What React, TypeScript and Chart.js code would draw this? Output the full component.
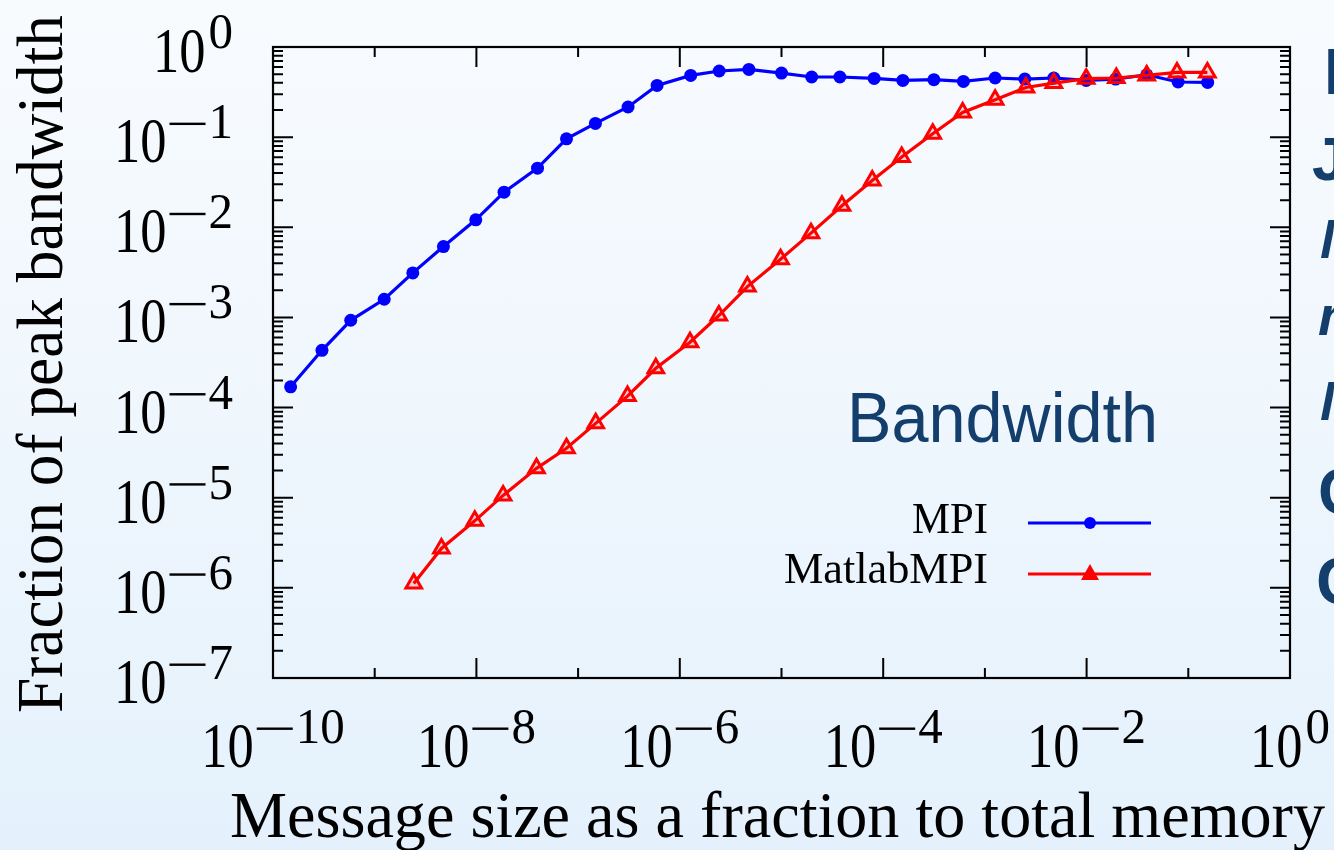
import React, { useEffect, useRef } from "react";
import { Chart, registerables } from "chart.js";

Chart.register(...registerables);

// ---- data ----
const mpiX = [1.49e-10, 3.03e-10, 5.81e-10, 1.24e-9, 2.37e-9, 4.74e-9, 9.86e-9, 1.87e-8, 3.99e-8, 7.69e-8, 1.48e-7, 3.1e-7, 5.98e-7, 1.28e-6, 2.44e-6, 4.78e-6, 1.0e-5, 1.98e-5, 3.75e-5, 8.15e-5, 1.56e-4, 3.15e-4, 6.15e-4, 1.26e-3, 2.47e-3, 4.76e-3, 9.91e-3, 1.93e-2, 3.9e-2, 7.94e-2, 0.155];
const mpiY = [1.7e-4, 4.32e-4, 9.3e-4, 1.59e-3, 3.12e-3, 6.11e-3, 1.21e-2, 2.45e-2, 4.53e-2, 9.59e-2, 0.142, 0.216, 0.375, 0.484, 0.542, 0.564, 0.514, 0.465, 0.465, 0.448, 0.426, 0.434, 0.415, 0.453, 0.441, 0.453, 0.426, 0.441, 0.492, 0.409, 0.405];
const matlabX = [2.42e-9, 4.53e-9, 9.64e-9, 1.83e-8, 3.9e-8, 7.69e-8, 1.49e-7, 3.06e-7, 5.81e-7, 1.26e-6, 2.42e-6, 4.62e-6, 9.79e-6, 1.95e-5, 3.93e-5, 7.8e-5, 1.52e-4, 3.07e-4, 6.04e-4, 1.26e-3, 2.53e-3, 4.76e-3, 9.91e-3, 1.96e-2, 3.9e-2, 7.74e-2, 0.154];
const matlabY = [1.12e-6, 2.74e-6, 5.54e-6, 1.06e-5, 2.12e-5, 3.53e-5, 6.68e-5, 1.34e-4, 2.73e-4, 5.3e-4, 1.05e-3, 2.2e-3, 4.43e-3, 8.61e-3, 1.73e-2, 3.3e-2, 6.01e-2, 0.109, 0.188, 0.26, 0.356, 0.398, 0.445, 0.453, 0.484, 0.522, 0.522];

const xExponents = [-10, -8, -6, -4, -2, 0];
const xTickExponents = [-10, -9, -8, -7, -6, -5, -4, -3, -2, -1, 0];
const yExponents = [0, -1, -2, -3, -4, -5, -6, -7];
const seriesNames = ["MPI", "MatlabMPI"];
const xTitle = "Message size as a fraction to total memory";
const yTitle = "Fraction of peak bandwidth";
const boxTitle = "Bandwidth";
const sideGlyphs = ["B", "J", "M", "m", "M", "C", "C"];

const SERIF = '"Liberation Serif", "Times New Roman", serif';
const SANS = '"Liberation Sans", Arial, sans-serif';

function fitText(ctx: CanvasRenderingContext2D, text: string, x: number, y: number, font: string, targetW: number, align: "left" | "right" | "center") {
  ctx.save();
  ctx.font = font;
  ctx.textAlign = "left";
  ctx.textBaseline = "alphabetic";
  const w = ctx.measureText(text).width;
  const sx = targetW / w;
  let L = x;
  if (align === "right") L = x - targetW;
  if (align === "center") L = x - targetW / 2;
  ctx.translate(L, y);
  ctx.scale(sx, 1);
  ctx.fillText(text, 0, 0);
  ctx.restore();
}

function powWidth(ctx: CanvasRenderingContext2D, exp: number) {
  ctx.font = `64px ${SERIF}`;
  const wb = ctx.measureText("10").width * 0.82;
  ctx.font = `50px ${SERIF}`;
  const we = ctx.measureText(String(Math.abs(exp))).width * 0.98;
  return { wb, we, total: wb + 3 + (exp < 0 ? 36 + 3 : 0) + we };
}

function drawPow(ctx: CanvasRenderingContext2D, exp: number, L: number, baseY: number) {
  const { wb } = powWidth(ctx, exp);
  ctx.save();
  ctx.fillStyle = "#000";
  ctx.textAlign = "left";
  ctx.textBaseline = "alphabetic";
  ctx.font = `64px ${SERIF}`;
  ctx.save();
  ctx.translate(L, baseY);
  ctx.scale(0.82, 1);
  ctx.fillText("10", 0, 0);
  ctx.restore();
  let cx = L + wb + 3;
  const eBase = baseY - 24;
  if (exp < 0) {
    ctx.fillRect(cx, eBase - 15.5, 36, 2.4);
    cx += 36 + 3;
  }
  ctx.font = `50px ${SERIF}`;
  ctx.save();
  ctx.translate(cx, eBase);
  ctx.scale(0.98, 1);
  ctx.fillText(String(Math.abs(exp)), 0, 0);
  ctx.restore();
  ctx.restore();
}

const decorPlugin = {
  id: "decor",
  beforeDatasetsDraw(chart: any) {
    const ctx: CanvasRenderingContext2D = chart.ctx;
    const { left, right, top, bottom } = chart.chartArea;
    const xs = chart.scales.x;
    const ys = chart.scales.y;
    ctx.save();
    ctx.strokeStyle = "#000";
    ctx.lineWidth = 2;
    ctx.beginPath();
    for (let d = -7; d <= 0; d++) {
      const py = ys.getPixelForValue(Math.pow(10, d));
      ctx.moveTo(left, py); ctx.lineTo(left + 20, py);
      ctx.moveTo(right, py); ctx.lineTo(right - 20, py);
      if (d < 0) {
        for (let m = 2; m <= 9; m++) {
          const pm = ys.getPixelForValue(m * Math.pow(10, d));
          ctx.moveTo(left, pm); ctx.lineTo(left + 10, pm);
          ctx.moveTo(right, pm); ctx.lineTo(right - 10, pm);
        }
      }
    }
    xTickExponents.forEach((e) => {
      const px = xs.getPixelForValue(Math.pow(10, e));
      const len = e % 2 === 0 ? 20 : 10;
      ctx.moveTo(px, bottom); ctx.lineTo(px, bottom - len);
      ctx.moveTo(px, top); ctx.lineTo(px, top + len);
    });
    ctx.stroke();
    ctx.lineWidth = 2.2;
    ctx.strokeRect(left, top, right - left, bottom - top);
    ctx.restore();
  },
  afterDraw(chart: any) {
    const ctx: CanvasRenderingContext2D = chart.ctx;
    const { bottom } = chart.chartArea;
    const xs = chart.scales.x;
    const ys = chart.scales.y;
    ctx.save();
    ctx.fillStyle = "#000";
    yExponents.forEach((e) => {
      const py = ys.getPixelForValue(Math.pow(10, e));
      const { total } = powWidth(ctx, e);
      drawPow(ctx, e, 233 - total, py + 25);
    });
    xExponents.forEach((e) => {
      const px = xs.getPixelForValue(Math.pow(10, e));
      const { total } = powWidth(ctx, e);
      drawPow(ctx, e, px - total / 2, bottom + 89);
    });
    fitText(ctx, xTitle, 230, 837, `66px ${SERIF}`, 1095, "left");
    ctx.save();
    ctx.translate(62, 713);
    ctx.rotate(-Math.PI / 2);
    fitText(ctx, yTitle, 0, 0, `66px ${SERIF}`, 698, "left");
    ctx.restore();

    ctx.fillStyle = "#143f6c";
    fitText(ctx, boxTitle, 847, 442, `70px ${SANS}`, 311, "left");
    ctx.fillStyle = "#000";
    fitText(ctx, seriesNames[0], 988, 533, `44px ${SERIF}`, 76, "right");
    fitText(ctx, seriesNames[1], 988, 583, `44px ${SERIF}`, 204, "right");
    ctx.lineWidth = 3.2;
    ctx.strokeStyle = "#0000ff";
    ctx.beginPath(); ctx.moveTo(1028, 523); ctx.lineTo(1151, 523); ctx.stroke();
    ctx.fillStyle = "#0000ff";
    ctx.beginPath(); ctx.arc(1090, 523, 6, 0, Math.PI * 2); ctx.fill();
    ctx.strokeStyle = "#ff0000";
    ctx.beginPath(); ctx.moveTo(1028, 574); ctx.lineTo(1151, 574); ctx.stroke();
    ctx.fillStyle = "#ff0000";
    ctx.beginPath();
    ctx.moveTo(1090, 564); ctx.lineTo(1099, 580); ctx.lineTo(1081, 580); ctx.closePath();
    ctx.fill();

    ctx.fillStyle = "#143f6c";
    const rows = [
      { t: sideGlyphs[0], x: 1324, y: 94, f: `bold 64px ${SANS}` },
      { t: sideGlyphs[1], x: 1312, y: 180, f: `bold 62px ${SANS}` },
      { t: sideGlyphs[2], x: 1320, y: 258, f: `italic bold 56px ${SANS}` },
      { t: sideGlyphs[3], x: 1318, y: 335, f: `italic bold 56px ${SANS}` },
      { t: sideGlyphs[4], x: 1320, y: 420, f: `italic bold 56px ${SANS}` },
      { t: sideGlyphs[5], x: 1318, y: 514, f: `bold 64px ${SANS}` },
      { t: sideGlyphs[6], x: 1316, y: 604, f: `bold 66px ${SANS}` },
    ];
    rows.forEach((r) => {
      ctx.font = r.f;
      ctx.textAlign = "left";
      ctx.fillText(r.t, r.x, r.y);
    });
    ctx.restore();
  },
};

export default function App() {
  const ref = useRef<HTMLCanvasElement | null>(null);
  useEffect(() => {
    if (!ref.current) return;
    const chart = new Chart(ref.current, {
      type: "line",
      data: {
        datasets: [
          {
            label: seriesNames[0],
            data: mpiX.map((x, i) => ({ x, y: mpiY[i] })),
            borderColor: "#0000ff",
            backgroundColor: "#0000ff",
            borderWidth: 3.2,
            pointStyle: "circle",
            pointRadius: 6.5,
            pointBorderWidth: 0,
            pointBackgroundColor: "#0000ff",
            fill: false,
            order: 2,
          },
          {
            label: seriesNames[1],
            data: matlabX.map((x, i) => ({ x, y: matlabY[i] })),
            borderColor: "#ff0000",
            backgroundColor: "rgba(255,0,0,0.15)",
            borderWidth: 3.2,
            pointStyle: "triangle",
            pointRadius: 9,
            pointBorderWidth: 3,
            pointBorderColor: "#ff0000",
            pointBackgroundColor: "rgba(255,0,0,0.15)",
            fill: false,
            order: 1,
          },
        ],
      },
      options: {
        responsive: false,
        maintainAspectRatio: false,
        animation: false,
        layout: { padding: { left: 273, right: 44, top: 47, bottom: 172 } },
        elements: { line: { tension: 0 } },
        scales: {
          x: { type: "logarithmic", min: 1e-10, max: 1, display: false },
          y: { type: "logarithmic", min: 1e-7, max: 1, display: false },
        },
        plugins: { legend: { display: false }, tooltip: { enabled: false } },
      },
      plugins: [decorPlugin],
    });
    return () => chart.destroy();
  }, []);
  return (
    <div
      style={{
        position: "absolute",
        left: 0,
        top: 0,
        width: 1334,
        height: 850,
        overflow: "hidden",
        background: "linear-gradient(to bottom, #f8fbfe 0%, #eef6fd 55%, #e4f1fc 100%)",
      }}
    >
      <canvas ref={ref} width={1334} height={850} style={{ display: "block", width: 1334, height: 850 }} />
    </div>
  );
}
